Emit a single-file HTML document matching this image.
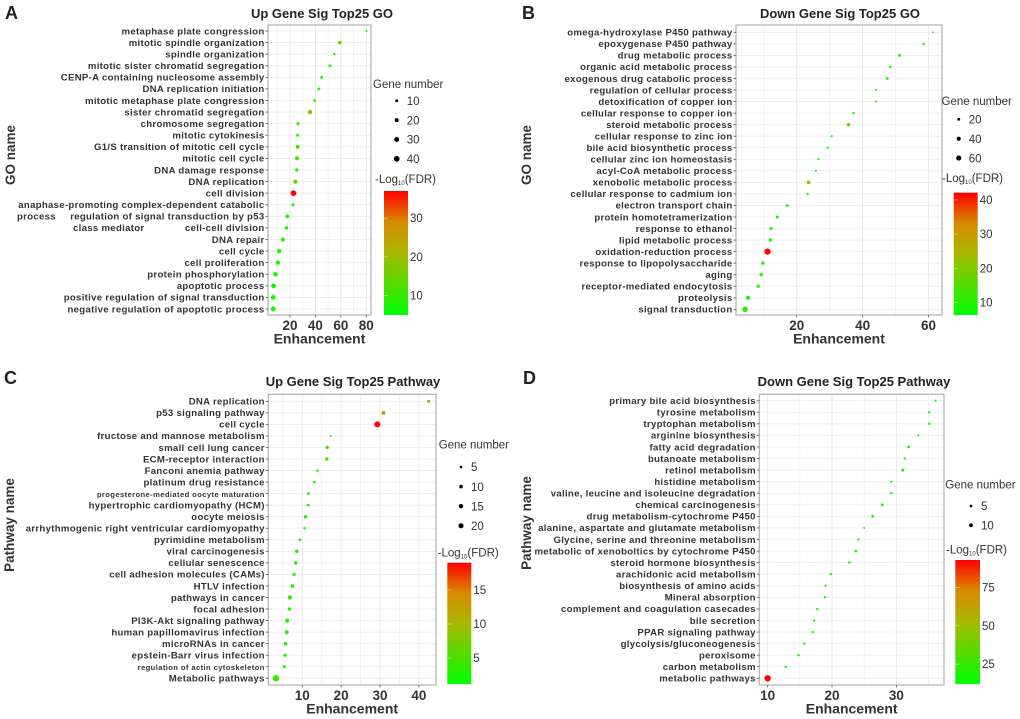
<!DOCTYPE html>
<html><head><meta charset="utf-8"><style>
html,body{margin:0;padding:0;background:#fff;}
svg{display:block;font-family:"Liberation Sans",sans-serif;}
</style></head><body>
<svg id="fig" width="1020" height="719" viewBox="0 0 1020 719" xmlns="http://www.w3.org/2000/svg">
<defs>
<linearGradient id="cbar" x1="0" y1="1" x2="0" y2="0">
<stop offset="0" stop-color="#00ff00"/><stop offset="0.5" stop-color="#a8b800"/><stop offset="0.75" stop-color="#d88a00"/><stop offset="1" stop-color="#ff0000"/>
</linearGradient>
</defs>
</svg>
<script>
// ---- Panel A data ----
const aCats = ["metaphase plate congression","mitotic spindle organization","spindle organization","mitotic sister chromatid segregation","CENP-A containing nucleosome assembly","DNA replication initiation","mitotic metaphase plate congression","sister chromatid segregation","chromosome segregation","mitotic cytokinesis","G1/S transition of mitotic cell cycle","mitotic cell cycle","DNA damage response","DNA replication","cell division","anaphase-promoting complex-dependent catabolic|process","regulation of signal transduction by p53|class mediator","cell-cell division","DNA repair","cell cycle","cell proliferation","protein phosphorylation","apoptotic process","positive regulation of signal transduction","negative regulation of apoptotic process"];
const aEnh = [80.1,59.2,54.8,51.4,44.9,42.7,39.4,35.7,26.3,26.0,26.0,25.5,25.3,24.2,22.7,22.4,17.9,17.2,14.3,11.5,10.4,8.6,7.1,6.8,6.8];
const aGenes = [5,15,8,10,10,10,10,25,12,11,18,20,14,22,40,12,17,16,20,22,24,26,28,28,30];
const aFdr = [6,15,7,7,7,7,7,22,8,8,10,13,8,16,37,8,8,8,8,8,8,7,6,6,6];
const aXTicks = [20,40,60,80];
const aSizeTicks = [10,20,30,40];
const aColorTicks = [10,20,30];
// ---- Panel B data ----
const bCats = ["omega-hydroxylase P450 pathway","epoxygenase P450 pathway","drug metabolic process","organic acid metabolic process","exogenous drug catabolic process","regulation of cellular process","detoxification of copper ion","cellular response to copper ion","steroid metabolic process","cellular response to zinc ion","bile acid biosynthetic process","cellular zinc ion homeostasis","acyl-CoA metabolic process","xenobolic metabolic process","cellular response to cadmium ion","electron transport chain","protein homotetramerization","response to ethanol","lipid metabolic process","oxidation-reduction process","response to lipopolysaccharide","aging","receptor-mediated endocytosis","proteolysis","signal transduction"];
const bEnh = [61.3,58.5,51.2,48.4,47.5,44.0,44.0,37.2,35.7,30.6,29.4,26.6,25.8,23.6,23.3,17.1,14.1,12.2,12.0,11.1,9.7,9.2,8.3,5.2,4.3];
const bGenes = [8,15,20,15,18,10,10,12,25,10,12,12,12,30,14,18,20,22,25,90,25,25,25,35,72];
const bFdr = [7,15,14,10,12,8,8,9,16,8,9,8,8,24,8,8,8,8,8,42,8,8,8,9,12];
const bXTicks = [20,40,60];
const bSizeTicks = [20,40,60];
const bColorTicks = [10,20,30,40];
// ---- Panel C data ----
const cCats = ["DNA replication","p53 signaling pathway","cell cycle","fructose and mannose metabolism","small cell lung cancer","ECM-receptor interaction","Fanconi anemia pathway","platinum drug resistance","progesterone-mediated oocyte maturation","hypertrophic cardiomyopathy (HCM)","oocyte meiosis","arrhythmogenic right ventricular cardiomyopathy","pyrimidine metabolism","viral carcinogenesis","cellular senescence","cell adhesion molecules (CAMs)","HTLV infection","pathways in cancer","focal adhesion","PI3K-Akt signaling pathway","human papillomavirus infection","microRNAs in cancer","epstein-Barr virus infection","regulation of actin cytoskeleton","Metabolic pathways"];
const cEnh = [42.5,30.9,29.3,17.3,16.4,16.3,13.9,13.1,11.6,11.5,10.8,10.6,9.4,8.6,8.3,7.9,7.5,6.8,6.7,6.1,6.0,5.7,5.6,5.4,3.2];
const cGenes = [8,12,28,3,9,9,5,6,6,6,8,5,6,10,9,8,10,14,9,12,12,10,8,7,30];
const cFdr = [10,12,19,2,6,5,3,3,3,3,3,2,3,3,3,3,3,5,3,3,3,3,3,2,4];
const cXTicks = [10,20,30,40];
const cSizeTicks = [5,10,15,20];
const cColorTicks = [5,10,15];
// ---- Panel D data ----
const dCats = ["primary bile acid biosynthesis","tyrosine metabolism","tryptophan metabolism","arginine biosynthesis","fatty acid degradation","butanoate metabolism","retinol metabolism","histidine metabolism","valine, leucine and isoleucine degradation","chemical carcinogenesis","drug metabolism-cytochrome P450","alanine, aspartate and glutamate metabolism","Glycine, serine and threonine metabolism","metabolic of xenoboltics by cytochrome P450","steroid hormone biosynthesis","arachidonic acid metabolism","biosynthesis of amino acids","Mineral absorption","complement and coagulation casecades","bile secretion","PPAR signaling pathway","glycolysis/gluconeogenesis","peroxisome","carbon metabolism","metabolic pathways"];
const dEnh = [36.1,35.1,35.1,33.4,31.9,31.3,31.0,29.2,29.2,27.8,26.3,25.0,24.1,23.7,22.7,19.8,19.0,18.9,17.7,17.2,17.0,15.7,14.8,12.8,10.0];
const dGenes = [3,4,4,3,5,4,6,3,4,6,5,3,4,5,4,4,4,4,4,4,4,4,4,4,28];
const dFdr = [14,15,15,14,18,15,20,14,15,20,18,14,15,18,15,14,15,14,14,14,14,14,14,14,93];
const dXTicks = [10,20,30];
const dSizeTicks = [5,10];
const dColorTicks = [25,50,75];

const NS = "http://www.w3.org/2000/svg";
const svg = document.getElementById('fig');
function mk(tag, attrs, parent){const e=document.createElementNS(NS,tag);for(const k in attrs)e.setAttribute(k,attrs[k]);(parent||svg).appendChild(e);return e;}
const stops=[[0,[0,255,0]],[0.5,[168,184,0]],[0.75,[216,138,0]],[1,[255,0,0]]];
function colorAt(t){t=Math.max(0,Math.min(1,t));for(let i=1;i<stops.length;i++){if(t<=stops[i][0]){const a=stops[i-1],b=stops[i];const u=(t-a[0])/(b[0]-a[0]);const c=a[1].map((v,j)=>Math.round(v+(b[1][j]-v)*u));return `rgb(${c[0]},${c[1]},${c[2]})`;}}return 'rgb(255,0,0)';}

function panel(P, cats, enh, genes, fdr, xTicks, sizeTicks, colorTicks){
  const g=mk('g',{});
  
  
  const xs=v=>P.bx0+(v-P.xmin)/(P.xmax-P.xmin)*(P.bx1-P.bx0);
  const ys=i=>P.ry0+i*(P.ry1-P.ry0)/(cats.length-1);
  const rs=n=>P.rk*Math.sqrt(n);
  const cs=v=>colorAt((v-P.cmin)/(P.cmax-P.cmin));
  const cy=v=>P.cb.y1-(v-P.cmin)/(P.cmax-P.cmin)*(P.cb.y1-P.cb.y0);
  let t=mk('text',{x:P.lx,y:P.ly,'font-size':18,'font-weight':'bold',fill:'#222'},g);t.textContent=P.letter;
  
  t=mk('text',{x:P.tx,y:P.ty,'font-size':13,'font-weight':'bold',fill:'#222','text-anchor':'middle'},g);t.textContent=P.title;
  
  const bg=mk('rect',{x:P.bx0,y:P.by0,width:P.bx1-P.bx0,height:P.by1-P.by0,fill:'#fff'},g);
  
  const step=xTicks[1]-xTicks[0];
  for(let v=xTicks[0]-step;v<=xTicks[xTicks.length-1]+step;v+=step/2){
    const x=xs(v); if(x<P.bx0||x>P.bx1)continue;
    const l=mk('line',{x1:x,x2:x,y1:P.by0,y2:P.by1,stroke:(Math.abs((v-xTicks[0])%step)<1e-6)?'#e4e4e4':'#f0f0f0','stroke-width':0.8},g);
    
  }
  cats.forEach((c,i)=>{const l=mk('line',{x1:P.bx0,x2:P.bx1,y1:ys(i),y2:ys(i),stroke:'#ececec','stroke-width':0.8},g);
    });
  const br=mk('rect',{x:P.bx0,y:P.by0,width:P.bx1-P.bx0,height:P.by1-P.by0,fill:'none',stroke:'#b0b0b0','stroke-width':1.2},g);
  
  cats.forEach((c,i)=>{
    const parts=c.split('|');const y=ys(i);
    const small=P.small&&P.small.includes(c);
    const tk=mk('line',{x1:P.bx0-2.5,x2:P.bx0,y1:y,y2:y,stroke:'#555','stroke-width':0.8},g);
    
    const tx=mk('text',{x:P.bx0-3.5,y:y+3.3,'font-size':small?7.6:9.6,'font-weight':'bold',fill:'#333','text-anchor':'end','letter-spacing':small?0.4:0.3},g);
    tx.textContent=parts[0];
    
    if(parts[1]){const t2=mk('text',{x:P.wrapX[parts[1]],y:y+3.3+11.2,'font-size':9.6,'font-weight':'bold',fill:'#333','letter-spacing':0.3},g);t2.textContent=parts[1];
      }
  });
  xTicks.forEach(v=>{const x=xs(v);
    const tk=mk('line',{x1:x,x2:x,y1:P.by1,y2:P.by1+2.5,stroke:'#555','stroke-width':0.8},g);
    
    const tx=mk('text',{x:x,y:P.by1+15,'font-size':13.5,'font-weight':'bold',fill:'#333','text-anchor':'middle'},g);tx.textContent=v;
    });
  t=mk('text',{x:(P.bx0+P.bx1)/2,y:P.by1+28.5,'font-size':14,'font-weight':'bold',fill:'#333','text-anchor':'middle'},g);t.textContent='Enhancement';
  
  t=mk('text',{x:0,y:0,'font-size':13.5,'font-weight':'bold',fill:'#333','text-anchor':'middle',transform:`translate(${P.yax},${P.yay}) rotate(-90)`},g);t.textContent=P.ytitle;
  
  cats.forEach((c,i)=>{const p=mk('circle',{cx:xs(enh[i]),cy:ys(i),r:rs(genes[i]),fill:cs(fdr[i])},g);
    
    });
  t=mk('text',{x:P.gx,y:P.gy,'font-size':11.5,fill:'#333'},g);t.textContent='Gene number';
  
  sizeTicks.forEach((n,i)=>{const y=P.sy0+i*P.sdy;
    const d=mk('circle',{cx:P.sx,cy:y,r:rs(n),fill:'#000'},g);
    
    const tx=mk('text',{x:P.sx+10,y:y+4.2,'font-size':11.5,fill:'#333'},g);tx.textContent=n;
    });
  t=mk('text',{x:P.fx,y:P.fy,'font-size':11.5,fill:'#333'},g);
  
  const s1=mk('tspan',{},t);s1.textContent='-Log';
  const s2=mk('tspan',{'font-size':6,dy:2},t);s2.textContent='10';
  const s3=mk('tspan',{dy:-2},t);s3.textContent='(FDR)';
  const cb=mk('rect',{x:P.cb.x0,y:P.cb.y0,width:P.cb.x1-P.cb.x0,height:P.cb.y1-P.cb.y0,fill:'url(#cbar)'},g);
  
  colorTicks.forEach(v=>{const y=cy(v);
    const l1=mk('line',{x1:P.cb.x0,x2:P.cb.x0+4,y1:y,y2:y,stroke:'#fff','stroke-width':0.6,opacity:0.7},g);
    
    const tx=mk('text',{x:P.cb.x1+2,y:y+4,'font-size':11.5,fill:'#333'},g);tx.textContent=v;
    });
}

panel({id:'a',letter:'A',lx:5,ly:19,title:'Up Gene Sig Top25 GO',tx:322,ty:18,bx0:268,bx1:371,by0:25,by1:315,ry0:31,ry1:309,
  xmin:2.7,xmax:83.7,rk:0.45,cmin:5,cmax:37,yax:15,yay:155,ytitle:'GO name',wrapX:{'process':17,'class mediator':73},
  gx:373,gy:88,sx:396.7,sy0:100.7,sdy:19.4,fx:375,fy:183,cb:{x0:384,x1:408,y0:191,y1:315}},
  aCats,aEnh,aGenes,aFdr,aXTicks,aSizeTicks,aColorTicks);
panel({id:'b',letter:'B',lx:522,ly:19,title:'Down Gene Sig Top25 GO',tx:840,ty:18,bx0:736,bx1:942,by0:25,by1:315,ry0:32.3,ry1:309.3,
  xmin:1.55,xmax:64.1,rk:0.33,cmin:6.4,cmax:42.1,yax:531,yay:155,ytitle:'GO name',wrapX:{},
  gx:941.5,gy:105,sx:958.7,sy0:119.3,sdy:19.4,fx:942,fy:182,cb:{x0:953.7,x1:977.7,y0:192.7,y1:315}},
  bCats,bEnh,bGenes,bFdr,bXTicks,bSizeTicks,bColorTicks);
panel({id:'c',letter:'C',lx:4,ly:384,title:'Up Gene Sig Top25 Pathway',tx:353,ty:386,bx0:268.3,bx1:436,by0:394.3,by1:685,ry0:401.3,ry1:678.3,
  xmin:1.26,xmax:44.4,rk:0.57,cmin:1.2,cmax:19,yax:14,yay:525,ytitle:'Pathway name',wrapX:{},
  small:['progesterone-mediated oocyte maturation','regulation of actin cytoskeleton'],
  gx:438.7,gy:448.3,sx:461,sy0:467,sdy:19.6,fx:437.7,fy:556.7,cb:{x0:447.3,x1:471.3,y0:562.7,y1:684}},
  cCats,cEnh,cGenes,cFdr,cXTicks,cSizeTicks,cColorTicks);
panel({id:'d',letter:'D',lx:523,ly:384,title:'Down Gene Sig Top25 Pathway',tx:854,ty:386,bx0:759.3,bx1:944,by0:394.3,by1:685,ry0:400.7,ry1:678.3,
  xmin:8.7,xmax:37.4,rk:0.6,cmin:12,cmax:93,yax:531,yay:523,ytitle:'Pathway name',wrapX:{},
  gx:945.3,gy:488.3,sx:971,sy0:506,sdy:19.3,fx:946,fy:553.3,cb:{x0:955.3,x1:980,y0:560,y1:684}},
  dCats,dEnh,dGenes,dFdr,dXTicks,dSizeTicks,dColorTicks);
</script>
</body></html>
